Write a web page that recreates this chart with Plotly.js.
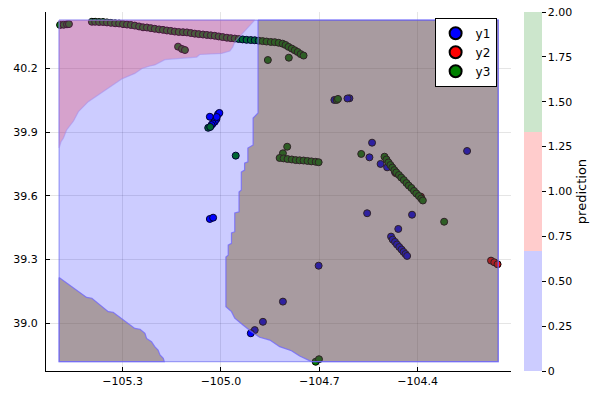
<!DOCTYPE html>
<html>
<head>
<meta charset="utf-8">
<script src="https://cdn.plot.ly/plotly-3.0.1.min.js"></script>
<style>html,body{margin:0;padding:0;background:#fff;}#chart{width:600px;height:400px;}</style>
</head>
<body>
<div id="chart"></div>
<script>
// ---------- tick labels ----------
const xTickVals = [-105.3, -105.0, -104.7, -104.4];
const xTickText = ["\u2212105.3", "\u2212105.0", "\u2212104.7", "\u2212104.4"];
const yTickVals = [39.0, 39.3, 39.6, 39.9, 40.2];
const yTickText = ["39.0", "39.3", "39.6", "39.9", "40.2"];
const cbTickVals = [0, 0.25, 0.5, 0.75, 1.0, 1.25, 1.5, 1.75, 2.0];
const cbTickText = ["0", "0.25", "0.50", "0.75", "1.00", "1.25", "1.50", "1.75", "2.00"];

// ---------- series y1 (blue) ----------
const y1X = [-105.034, -105.014, -105.009, -105.005, -105.019, -105.025, -105.029, -105.013,
  -105.034, -105.024,
  -104.654, -104.608, -104.614, -104.539, -104.547, -104.513, -104.249, -104.493, -104.469,
  -104.554, -104.417, -104.459,
  -104.481, -104.476, -104.469, -104.463, -104.456, -104.449, -104.443, -104.437, -104.432,
  -104.702, -104.811, -104.872, -104.897, -104.909];
const y1Y = [39.972, 39.961, 39.984, 39.990, 39.949, 39.940, 39.933, 39.971,
  39.491, 39.497,
  40.051, 40.059, 40.058, 39.850, 39.781, 39.750, 39.811, 39.734, 39.711,
  39.518, 39.511, 39.444,
  39.408, 39.394, 39.383, 39.371, 39.359, 39.347, 39.336, 39.326, 39.317,
  39.271, 39.102, 39.007, 38.968, 38.953];

// ---------- series y2 (red) ----------
const y2X = [-104.176, -104.166, -104.156, -104.466, -104.390];
const y2Y = [39.295, 39.287, 39.278, 39.706, 39.596];

// ---------- series y3 (green) ----------
const y3X = [-105.491, -105.480, -105.470, -105.464,
  -105.394, -105.384, -105.372, -105.360, -105.348, -105.336, -105.323, -105.311, -105.299, -105.287,
  -105.275, -105.263, -105.250, -105.238, -105.226, -105.214, -105.202, -105.189, -105.177, -105.165,
  -105.153, -105.141, -105.129, -105.116, -105.104, -105.092, -105.080, -105.068, -105.055, -105.043,
  -105.031, -105.019, -105.007, -104.995, -104.982, -104.970, -104.958, -104.946, -104.934, -104.922,
  -104.909, -104.897, -104.885, -104.873, -104.861, -104.848, -104.836, -104.824, -104.812, -104.803,
  -104.794, -104.784, -104.775, -104.766, -104.757, -104.748,
  -105.131, -105.119, -105.110, -104.857, -104.793, -104.647, -104.643,
  -104.798, -104.811,
  -104.821, -104.809, -104.797, -104.784, -104.772, -104.760, -104.748, -104.736, -104.724, -104.711, -104.702,
  -104.955, -104.572, -105.039, -105.033,
  -104.501, -104.495, -104.489, -104.483, -104.477, -104.471, -104.465, -104.457, -104.450, -104.442,
  -104.434, -104.427, -104.419, -104.411, -104.404, -104.396, -104.389, -104.384,
  -104.319, -104.711, -104.701];
const y3Y = [40.404, 40.405, 40.407, 40.408,
  40.419, 40.419, 40.418, 40.418, 40.416, 40.414, 40.412, 40.411, 40.408, 40.406,
  40.404, 40.401, 40.397, 40.393, 40.392, 40.389, 40.386, 40.383, 40.381, 40.378,
  40.376, 40.373, 40.371, 40.370, 40.369, 40.366, 40.363, 40.361, 40.359, 40.357,
  40.355, 40.353, 40.350, 40.347, 40.344, 40.342, 40.340, 40.338, 40.336, 40.334,
  40.333, 40.332, 40.330, 40.328, 40.326, 40.324, 40.323, 40.320, 40.316, 40.310,
  40.301, 40.293, 40.285, 40.277, 40.267, 40.260,
  40.302, 40.291, 40.286, 40.239, 40.250, 40.051, 40.056,
  39.831, 39.800,
  39.778, 39.776, 39.773, 39.771, 39.768, 39.767, 39.766, 39.764, 39.762, 39.760, 39.758,
  39.789, 39.797, 39.920, 39.924,
  39.784, 39.771, 39.757, 39.745, 39.733, 39.721, 39.710, 39.698, 39.686, 39.674,
  39.660, 39.648, 39.637, 39.623, 39.611, 39.599, 39.587, 39.578,
  39.478, 38.819, 38.831];

// ---------- prediction regions (boundaries in data units) ----------
const gridX = [-105.494, -104.154, -104.154, -105.494, -105.494];
const gridY = [40.427, 40.427, 38.820, 38.820, 40.427];

const pinkX = [-105.494, -104.897, -104.958, -104.964, -104.973, -104.998, -105.065, -105.074, -105.171,
  -105.202, -105.217, -105.241, -105.263, -105.293, -105.303, -105.405, -105.435, -105.450, -105.471,
  -105.481, -105.488, -105.494, -105.494];
const pinkY = [40.427, 40.427, 40.324, 40.300, 40.281, 40.270, 40.265, 40.253, 40.241,
  40.216, 40.211, 40.199, 40.176, 40.159, 40.150, 40.043, 39.996, 39.952, 39.910,
  39.871, 39.855, 39.825, 40.427];

const brownRightX = [-104.887, -104.154, -104.154, -104.724, -104.760, -104.785, -104.821, -104.851, -104.882,
  -104.907, -104.933, -104.958, -104.968, -104.985, -104.985, -104.978, -104.978, -104.968, -104.968,
  -104.958, -104.958, -104.945, -104.945, -104.938, -104.938, -104.928, -104.928, -104.918, -104.918,
  -104.902, -104.902, -104.887, -104.887];
const brownRightY = [40.427, 40.427, 38.820, 38.820, 38.846, 38.871, 38.890, 38.921, 38.934,
  38.960, 38.992, 39.024, 39.055, 39.078, 39.312, 39.321, 39.368, 39.376, 39.425,
  39.431, 39.519, 39.525, 39.618, 39.627, 39.712, 39.721, 39.754, 39.760, 39.825,
  39.839, 39.966, 39.990, 40.427];

const brownLeftX = [-105.494, -105.410, -105.394, -105.344, -105.329, -105.263, -105.247, -105.232, -105.227,
  -105.212, -105.202, -105.192, -105.186, -105.176, -105.173, -105.494, -105.494];
const brownLeftY = [39.216, 39.122, 39.118, 39.055, 39.052, 38.976, 38.972, 38.953, 38.929,
  38.913, 38.890, 38.874, 38.851, 38.835, 38.820, 38.820, 39.216];

const FONT = "DejaVu Sans, Liberation Sans, sans-serif";

function pts(x, y, name, color) {
  return {
    type: "scatter", mode: "markers", x: x, y: y, name: name,
    marker: {color: color, size: 7, line: {color: "#000", width: 1}},
    hoverinfo: "skip"
  };
}
function region(x, y, fill, line) {
  return {
    type: "scatter", mode: "lines", x: x, y: y, fill: "toself",
    fillcolor: fill, line: {color: line, width: 1.2},
    showlegend: false, hoverinfo: "skip"
  };
}

const cbScale = [[0, "#ccccff"], [1/3, "#ccccff"], [1/3, "#ffcccc"], [2/3, "#ffcccc"], [2/3, "#cce6cc"], [1, "#cce6cc"]];

const traces = [
  {
    type: "heatmap", z: [[0, 2]], x: [-200, -199], y: [0, 1],
    zmin: 0, zmax: 2, colorscale: cbScale, showscale: true, hoverinfo: "skip",
    colorbar: {
      x: 1.0258, xanchor: "left", xpad: 0, y: 0.5, yanchor: "middle", ypad: 0,
      len: 1, lenmode: "fraction", thickness: 18, thicknessmode: "pixels",
      outlinewidth: 0, tickmode: "array", tickvals: cbTickVals, ticktext: cbTickText,
      ticks: "outside", ticklen: 4, tickcolor: "#000",
      tickfont: {family: FONT, size: 11, color: "#000"},
      title: {text: "prediction", side: "right", font: {family: FONT, size: 13, color: "#000"}}
    }
  },
  pts(y1X, y1Y, "y1", "#0000ff"),
  pts(y2X, y2Y, "y2", "#ff0000"),
  pts(y3X, y3Y, "y3", "#008000"),
  region(gridX, gridY, "rgba(0,0,255,0.2)", "rgba(100,100,240,0.6)"),
  region(brownRightX, brownRightY, "rgba(114,82,18,0.4)", "rgba(110,100,255,0.75)"),
  region(brownLeftX, brownLeftY, "rgba(114,82,18,0.4)", "rgba(110,100,255,0.75)"),
  region(pinkX, pinkY, "rgba(237,67,85,0.3)", "rgba(160,140,240,0.5)")
];

const layout = {
  width: 600, height: 400,
  margin: {l: 46, r: 88, t: 12, b: 29},
  paper_bgcolor: "#fff", plot_bgcolor: "#fff",
  font: {family: FONT, size: 11, color: "#000"},
  showlegend: true,
  legend: {
    x: 0.967, xanchor: "right", y: 0.984, yanchor: "top",
    bgcolor: "#fff", bordercolor: "#000", borderwidth: 1,
    font: {family: FONT, size: 12, color: "#000"}, itemsizing: "constant"
  },
  xaxis: {
    range: [-105.534, -104.115], showline: true, linecolor: "#000", linewidth: 1,
    ticks: "inside", ticklen: 4, tickcolor: "#000", tickmode: "array",
    tickvals: xTickVals, ticktext: xTickText, showgrid: true, gridcolor: "rgba(0,0,0,0.1)",
    zeroline: false, tickfont: {family: FONT, size: 11, color: "#000"}
  },
  yaxis: {
    range: [38.7755, 40.465], showline: true, linecolor: "#000", linewidth: 1,
    ticks: "inside", ticklen: 4, tickcolor: "#000", tickmode: "array",
    tickvals: yTickVals, ticktext: yTickText, showgrid: true, gridcolor: "rgba(0,0,0,0.1)",
    zeroline: false, tickfont: {family: FONT, size: 11, color: "#000"}, ticklabelstandoff: 5
  },
  shapes: [
    {type: "line", xref: "paper", yref: "paper", x0: 1.0644, x1: 1.0644, y0: 0, y1: 1,
     line: {color: "#000", width: 1}}
  ]
};

Plotly.newPlot("chart", traces, layout, {displayModeBar: false, staticPlot: true});
</script>
</body>
</html>
